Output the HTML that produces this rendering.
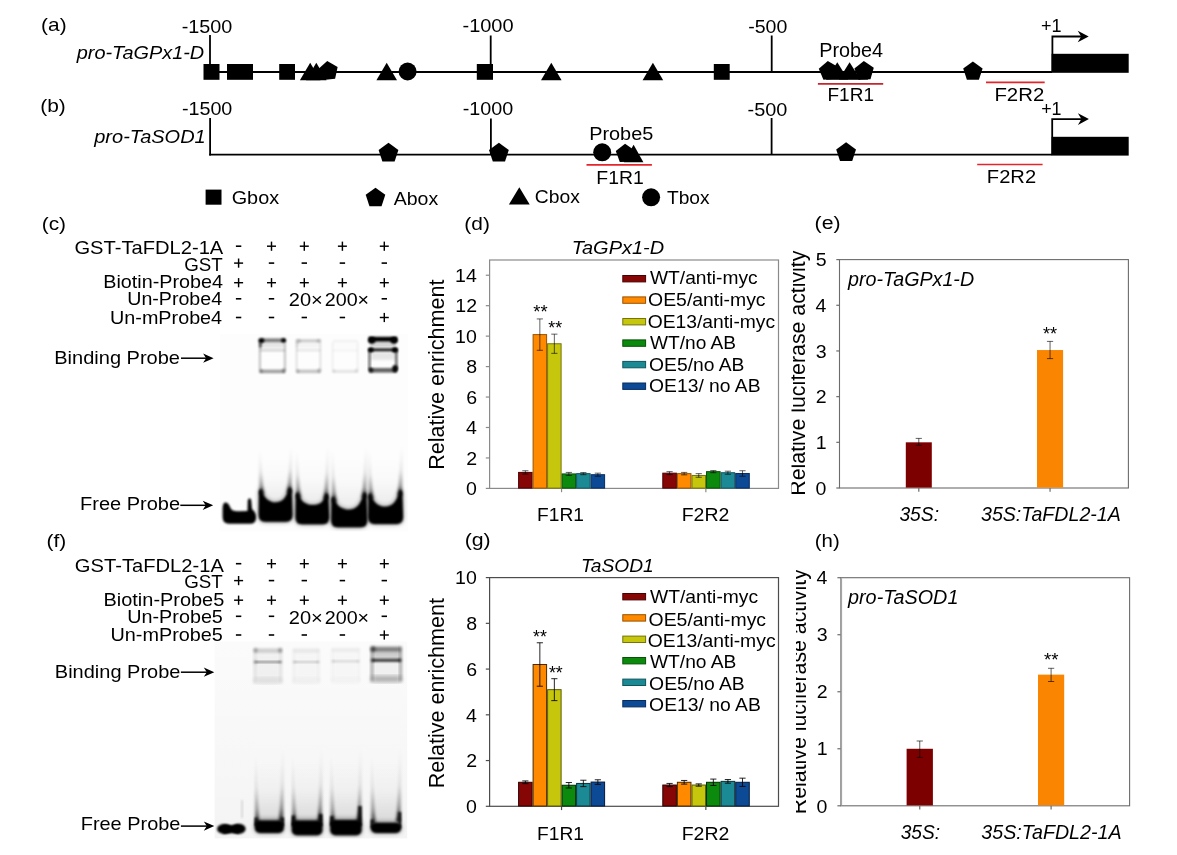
<!DOCTYPE html>
<html><head><meta charset="utf-8"><title>Figure</title>
<style>
html,body{margin:0;padding:0;background:#fff;}
body{width:1177px;height:855px;overflow:hidden;}
svg{display:block;will-change:transform;font-family:"Liberation Sans",sans-serif;}
</style></head><body>
<svg width="1177" height="855" viewBox="0 0 1177 855">
<rect width="1177" height="855" fill="#fff"/>
<text transform="translate(41.12,31.20) scale(1.1381,1)" font-size="18.3">(a)</text>
<text transform="translate(181.68,32.50) scale(1.0835,1)" font-size="18.3">-1500</text>
<text transform="translate(462.48,32.40) scale(1.0923,1)" font-size="18.3">-1000</text>
<text transform="translate(748.19,32.80) scale(1.0674,1)" font-size="18.3">-500</text>
<text transform="translate(76.72,59.00) scale(1.0875,1)" font-size="18.3" font-style="italic">pro-TaGPx1-D</text>
<line x1="210.00" y1="72.00" x2="1052.00" y2="72.00" stroke="#000" stroke-width="1.8"/>
<line x1="210.00" y1="35.00" x2="210.00" y2="72.00" stroke="#000" stroke-width="1.8"/>
<line x1="490.70" y1="35.50" x2="490.70" y2="72.00" stroke="#000" stroke-width="1.8"/>
<line x1="771.70" y1="35.50" x2="771.70" y2="72.00" stroke="#000" stroke-width="1.8"/>
<rect x="203.50" y="64.00" width="16.00" height="15.80" fill="#000"/>
<rect x="227.00" y="64.00" width="26.00" height="15.80" fill="#000"/>
<rect x="279.20" y="64.00" width="15.80" height="15.80" fill="#000"/>
<rect x="476.80" y="64.00" width="16.20" height="15.80" fill="#000"/>
<rect x="713.80" y="64.00" width="15.90" height="15.80" fill="#000"/>
<polygon points="310.20,62.70 320.50,80.30 299.90,80.30" fill="#000"/>
<polygon points="316.30,62.70 326.60,80.30 306.00,80.30" fill="#000"/>
<polygon points="327.23,61.06 337.62,67.05 335.13,78.78 323.20,80.03 318.32,69.08" fill="#000"/>
<polygon points="386.70,62.70 397.00,80.30 376.40,80.30" fill="#000"/>
<circle cx="407.60" cy="71.50" r="9" fill="#000"/>
<polygon points="551.30,62.70 561.60,80.30 541.00,80.30" fill="#000"/>
<polygon points="652.90,62.70 663.20,80.30 642.60,80.30" fill="#000"/>
<polygon points="827.81,60.94 838.09,67.11 835.39,78.80 823.45,79.84 818.76,68.81" fill="#000"/>
<polygon points="837.30,62.20 848.10,79.60 826.50,79.60" fill="#000"/>
<polygon points="849.60,62.20 860.40,79.60 838.80,79.60" fill="#000"/>
<polygon points="863.84,61.11 873.78,67.81 870.48,79.34 858.50,79.76 854.40,68.49" fill="#000"/>
<rect x="826.00" y="74.00" width="42.00" height="5.60" fill="#000"/>
<polygon points="972.90,61.40 982.60,68.45 978.90,79.85 966.90,79.85 963.20,68.45" fill="#000"/>
<text transform="translate(819.25,57.40) scale(1.0274,1)" font-size="19.3">Probe4</text>
<line x1="817.90" y1="83.90" x2="883.20" y2="83.90" stroke="#c7242d" stroke-width="1.7"/>
<text transform="translate(827.52,100.70) scale(1.0381,1)" font-size="18.3">F1R1</text>
<line x1="986.00" y1="82.40" x2="1044.70" y2="82.40" stroke="#e6242b" stroke-width="1.6"/>
<text transform="translate(994.41,100.70) scale(1.1156,1)" font-size="18.3">F2R2</text>
<text transform="translate(1040.95,32.00) scale(0.9862,1)" font-size="18.3">+1</text>
<polyline points="1052.40,72.00 1052.40,36.50 1082.70,36.50" fill="none" stroke="#000" stroke-width="1.8" stroke-linejoin="miter"/>
<polygon points="1088.70,36.50 1077.70,30.70 1081.20,36.50 1077.70,42.30" fill="#000"/>
<rect x="1051.60" y="53.80" width="77.10" height="19.00" fill="#000"/>
<text transform="translate(40.22,112.40) scale(1.1430,1)" font-size="18.3">(b)</text>
<text transform="translate(181.88,114.90) scale(1.0791,1)" font-size="18.3">-1500</text>
<text transform="translate(462.78,115.40) scale(1.0813,1)" font-size="18.3">-1000</text>
<text transform="translate(747.58,115.80) scale(1.0871,1)" font-size="18.3">-500</text>
<text transform="translate(94.23,142.60) scale(1.0937,1)" font-size="18.3" font-style="italic">pro-TaSOD1</text>
<line x1="209.20" y1="154.70" x2="1052.00" y2="154.70" stroke="#000" stroke-width="1.8"/>
<line x1="210.10" y1="118.00" x2="210.10" y2="155.60" stroke="#000" stroke-width="1.8"/>
<line x1="490.90" y1="118.50" x2="490.90" y2="154.70" stroke="#000" stroke-width="1.8"/>
<line x1="771.60" y1="118.00" x2="771.60" y2="154.70" stroke="#000" stroke-width="1.8"/>
<polygon points="388.50,142.80 398.39,149.99 394.61,161.61 382.39,161.61 378.61,149.99" fill="#000"/>
<polygon points="498.90,142.80 508.79,149.99 505.01,161.61 492.79,161.61 489.01,149.99" fill="#000"/>
<polygon points="846.10,142.30 855.99,149.49 852.21,161.11 839.99,161.11 836.21,149.49" fill="#000"/>
<circle cx="602.20" cy="152.30" r="9" fill="#000"/>
<polygon points="625.05,143.81 634.80,150.38 631.56,161.68 619.81,162.09 615.79,151.04" fill="#000"/>
<polygon points="633.60,144.80 643.40,162.20 623.80,162.20" fill="#000"/>
<text transform="translate(589.15,139.60) scale(1.0472,1)" font-size="19.0">Probe5</text>
<line x1="586.50" y1="164.90" x2="651.90" y2="164.90" stroke="#e6242b" stroke-width="1.8"/>
<text transform="translate(596.28,184.00) scale(1.0616,1)" font-size="18.3">F1R1</text>
<line x1="977.20" y1="164.50" x2="1042.60" y2="164.50" stroke="#e6242b" stroke-width="1.6"/>
<text transform="translate(986.83,183.10) scale(1.1015,1)" font-size="18.3">F2R2</text>
<text transform="translate(1041.16,115.40) scale(0.9759,1)" font-size="18.3">+1</text>
<polyline points="1052.20,155.00 1052.20,119.10 1082.90,119.10" fill="none" stroke="#000" stroke-width="1.8" stroke-linejoin="miter"/>
<polygon points="1088.90,119.10 1077.90,113.30 1081.40,119.10 1077.90,124.90" fill="#000"/>
<rect x="1051.60" y="136.80" width="77.10" height="18.80" fill="#000"/>
<rect x="205.60" y="189.60" width="15.90" height="15.10" fill="#000"/>
<text transform="translate(231.67,203.60) scale(1.0844,1)" font-size="18.3">Gbox</text>
<polygon points="375.50,187.70 385.30,194.82 381.55,206.33 369.45,206.33 365.70,194.82" fill="#000"/>
<text transform="translate(393.70,205.10) scale(1.0669,1)" font-size="18.3">Abox</text>
<polygon points="519.30,187.20 529.70,204.60 508.90,204.60" fill="#000"/>
<text transform="translate(534.79,203.10) scale(1.0558,1)" font-size="18.3">Cbox</text>
<circle cx="651.10" cy="197.30" r="9" fill="#000"/>
<text transform="translate(666.90,203.50) scale(1.0496,1)" font-size="18.3">Tbox</text>
<text transform="translate(41.72,229.60) scale(1.1417,1)" font-size="18.3">(c)</text>
<text transform="translate(74.46,253.90) scale(1.1012,1)" font-size="18.3">GST-TaFDL2-1A</text>
<text transform="translate(184.22,270.70) scale(1.0261,1)" font-size="18.3">GST</text>
<text transform="translate(103.26,287.90) scale(1.0799,1)" font-size="18.3">Biotin-Probe4</text>
<text transform="translate(127.27,305.00) scale(1.0714,1)" font-size="18.3">Un-Probe4</text>
<text transform="translate(110.06,323.60) scale(1.0799,1)" font-size="18.3">Un-mProbe4</text>
<line x1="235.90" y1="246.20" x2="241.30" y2="246.20" stroke="#000" stroke-width="1.6"/>
<line x1="267.00" y1="246.20" x2="276.00" y2="246.20" stroke="#000" stroke-width="1.45"/>
<line x1="271.50" y1="241.60" x2="271.50" y2="250.80" stroke="#000" stroke-width="1.45"/>
<line x1="299.80" y1="246.20" x2="308.80" y2="246.20" stroke="#000" stroke-width="1.45"/>
<line x1="304.30" y1="241.60" x2="304.30" y2="250.80" stroke="#000" stroke-width="1.45"/>
<line x1="337.90" y1="246.20" x2="346.90" y2="246.20" stroke="#000" stroke-width="1.45"/>
<line x1="342.40" y1="241.60" x2="342.40" y2="250.80" stroke="#000" stroke-width="1.45"/>
<line x1="379.80" y1="246.20" x2="388.80" y2="246.20" stroke="#000" stroke-width="1.45"/>
<line x1="384.30" y1="241.60" x2="384.30" y2="250.80" stroke="#000" stroke-width="1.45"/>
<line x1="234.10" y1="263.10" x2="243.10" y2="263.10" stroke="#000" stroke-width="1.45"/>
<line x1="238.60" y1="258.50" x2="238.60" y2="267.70" stroke="#000" stroke-width="1.45"/>
<line x1="268.80" y1="263.10" x2="274.20" y2="263.10" stroke="#000" stroke-width="1.6"/>
<line x1="301.60" y1="263.10" x2="307.00" y2="263.10" stroke="#000" stroke-width="1.6"/>
<line x1="339.70" y1="263.10" x2="345.10" y2="263.10" stroke="#000" stroke-width="1.6"/>
<line x1="381.60" y1="263.10" x2="387.00" y2="263.10" stroke="#000" stroke-width="1.6"/>
<line x1="234.10" y1="282.70" x2="243.10" y2="282.70" stroke="#000" stroke-width="1.45"/>
<line x1="238.60" y1="278.10" x2="238.60" y2="287.30" stroke="#000" stroke-width="1.45"/>
<line x1="267.00" y1="282.70" x2="276.00" y2="282.70" stroke="#000" stroke-width="1.45"/>
<line x1="271.50" y1="278.10" x2="271.50" y2="287.30" stroke="#000" stroke-width="1.45"/>
<line x1="299.80" y1="282.70" x2="308.80" y2="282.70" stroke="#000" stroke-width="1.45"/>
<line x1="304.30" y1="278.10" x2="304.30" y2="287.30" stroke="#000" stroke-width="1.45"/>
<line x1="337.90" y1="282.70" x2="346.90" y2="282.70" stroke="#000" stroke-width="1.45"/>
<line x1="342.40" y1="278.10" x2="342.40" y2="287.30" stroke="#000" stroke-width="1.45"/>
<line x1="379.80" y1="282.70" x2="388.80" y2="282.70" stroke="#000" stroke-width="1.45"/>
<line x1="384.30" y1="278.10" x2="384.30" y2="287.30" stroke="#000" stroke-width="1.45"/>
<line x1="235.90" y1="298.80" x2="241.30" y2="298.80" stroke="#000" stroke-width="1.6"/>
<line x1="268.80" y1="298.80" x2="274.20" y2="298.80" stroke="#000" stroke-width="1.6"/>
<line x1="381.60" y1="298.80" x2="387.00" y2="298.80" stroke="#000" stroke-width="1.6"/>
<line x1="235.90" y1="317.50" x2="241.30" y2="317.50" stroke="#000" stroke-width="1.6"/>
<line x1="268.80" y1="317.50" x2="274.20" y2="317.50" stroke="#000" stroke-width="1.6"/>
<line x1="301.60" y1="317.50" x2="307.00" y2="317.50" stroke="#000" stroke-width="1.6"/>
<line x1="339.70" y1="317.50" x2="345.10" y2="317.50" stroke="#000" stroke-width="1.6"/>
<line x1="379.80" y1="317.50" x2="388.80" y2="317.50" stroke="#000" stroke-width="1.45"/>
<line x1="384.30" y1="312.90" x2="384.30" y2="322.10" stroke="#000" stroke-width="1.45"/>
<text transform="translate(288.76,306.00) scale(1.0956,1)" font-size="18.3">20×</text>
<text transform="translate(324.78,306.00) scale(1.0764,1)" font-size="18.3">200×</text>
<text transform="translate(54.23,363.90) scale(1.0949,1)" font-size="18.3">Binding Probe</text>
<line x1="181.00" y1="358.20" x2="208.60" y2="358.20" stroke="#000" stroke-width="1.5"/>
<polygon points="213.60,358.20 203.10,353.60 206.10,358.20 203.10,362.80" fill="#000"/>
<text transform="translate(80.04,509.70) scale(1.0932,1)" font-size="18.3">Free Probe</text>
<line x1="180.30" y1="505.30" x2="208.20" y2="505.30" stroke="#000" stroke-width="1.5"/>
<polygon points="213.20,505.30 202.70,500.70 205.70,505.30 202.70,509.90" fill="#000"/>
<text transform="translate(46.42,546.80) scale(1.1443,1)" font-size="18.3">(f)</text>
<text transform="translate(74.85,571.50) scale(1.1019,1)" font-size="18.3">GST-TaFDL2-1A</text>
<text transform="translate(184.22,588.30) scale(1.0261,1)" font-size="18.3">GST</text>
<text transform="translate(103.54,605.70) scale(1.0891,1)" font-size="18.3">Biotin-Probe5</text>
<text transform="translate(127.26,622.90) scale(1.0807,1)" font-size="18.3">Un-Probe5</text>
<text transform="translate(110.46,641.20) scale(1.0839,1)" font-size="18.3">Un-mProbe5</text>
<line x1="235.90" y1="563.70" x2="241.30" y2="563.70" stroke="#000" stroke-width="1.6"/>
<line x1="267.00" y1="563.70" x2="276.00" y2="563.70" stroke="#000" stroke-width="1.45"/>
<line x1="271.50" y1="559.10" x2="271.50" y2="568.30" stroke="#000" stroke-width="1.45"/>
<line x1="299.80" y1="563.70" x2="308.80" y2="563.70" stroke="#000" stroke-width="1.45"/>
<line x1="304.30" y1="559.10" x2="304.30" y2="568.30" stroke="#000" stroke-width="1.45"/>
<line x1="337.90" y1="563.70" x2="346.90" y2="563.70" stroke="#000" stroke-width="1.45"/>
<line x1="342.40" y1="559.10" x2="342.40" y2="568.30" stroke="#000" stroke-width="1.45"/>
<line x1="379.80" y1="563.70" x2="388.80" y2="563.70" stroke="#000" stroke-width="1.45"/>
<line x1="384.30" y1="559.10" x2="384.30" y2="568.30" stroke="#000" stroke-width="1.45"/>
<line x1="234.10" y1="580.60" x2="243.10" y2="580.60" stroke="#000" stroke-width="1.45"/>
<line x1="238.60" y1="576.00" x2="238.60" y2="585.20" stroke="#000" stroke-width="1.45"/>
<line x1="268.80" y1="580.60" x2="274.20" y2="580.60" stroke="#000" stroke-width="1.6"/>
<line x1="301.60" y1="580.60" x2="307.00" y2="580.60" stroke="#000" stroke-width="1.6"/>
<line x1="339.70" y1="580.60" x2="345.10" y2="580.60" stroke="#000" stroke-width="1.6"/>
<line x1="381.60" y1="580.60" x2="387.00" y2="580.60" stroke="#000" stroke-width="1.6"/>
<line x1="234.10" y1="600.20" x2="243.10" y2="600.20" stroke="#000" stroke-width="1.45"/>
<line x1="238.60" y1="595.60" x2="238.60" y2="604.80" stroke="#000" stroke-width="1.45"/>
<line x1="267.00" y1="600.20" x2="276.00" y2="600.20" stroke="#000" stroke-width="1.45"/>
<line x1="271.50" y1="595.60" x2="271.50" y2="604.80" stroke="#000" stroke-width="1.45"/>
<line x1="299.80" y1="600.20" x2="308.80" y2="600.20" stroke="#000" stroke-width="1.45"/>
<line x1="304.30" y1="595.60" x2="304.30" y2="604.80" stroke="#000" stroke-width="1.45"/>
<line x1="337.90" y1="600.20" x2="346.90" y2="600.20" stroke="#000" stroke-width="1.45"/>
<line x1="342.40" y1="595.60" x2="342.40" y2="604.80" stroke="#000" stroke-width="1.45"/>
<line x1="379.80" y1="600.20" x2="388.80" y2="600.20" stroke="#000" stroke-width="1.45"/>
<line x1="384.30" y1="595.60" x2="384.30" y2="604.80" stroke="#000" stroke-width="1.45"/>
<line x1="235.90" y1="616.30" x2="241.30" y2="616.30" stroke="#000" stroke-width="1.6"/>
<line x1="268.80" y1="616.30" x2="274.20" y2="616.30" stroke="#000" stroke-width="1.6"/>
<line x1="381.60" y1="616.30" x2="387.00" y2="616.30" stroke="#000" stroke-width="1.6"/>
<line x1="235.90" y1="635.00" x2="241.30" y2="635.00" stroke="#000" stroke-width="1.6"/>
<line x1="268.80" y1="635.00" x2="274.20" y2="635.00" stroke="#000" stroke-width="1.6"/>
<line x1="301.60" y1="635.00" x2="307.00" y2="635.00" stroke="#000" stroke-width="1.6"/>
<line x1="339.70" y1="635.00" x2="345.10" y2="635.00" stroke="#000" stroke-width="1.6"/>
<line x1="379.80" y1="635.00" x2="388.80" y2="635.00" stroke="#000" stroke-width="1.45"/>
<line x1="384.30" y1="630.40" x2="384.30" y2="639.60" stroke="#000" stroke-width="1.45"/>
<text transform="translate(288.76,623.50) scale(1.0956,1)" font-size="18.3">20×</text>
<text transform="translate(324.78,623.50) scale(1.0764,1)" font-size="18.3">200×</text>
<text transform="translate(54.84,678.20) scale(1.0923,1)" font-size="18.3">Binding Probe</text>
<line x1="180.90" y1="672.20" x2="209.30" y2="672.20" stroke="#000" stroke-width="1.5"/>
<polygon points="214.30,672.20 203.80,667.60 206.80,672.20 203.80,676.80" fill="#000"/>
<text transform="translate(80.74,830.30) scale(1.0887,1)" font-size="18.3">Free Probe</text>
<line x1="180.90" y1="826.10" x2="209.30" y2="826.10" stroke="#000" stroke-width="1.5"/>
<polygon points="214.30,826.10 203.80,821.50 206.80,826.10 203.80,830.70" fill="#000"/>
<defs>
<filter id="b0" x="-50%" y="-50%" width="200%" height="200%"><feGaussianBlur stdDeviation="0.5"/></filter>
<filter id="b1" x="-50%" y="-50%" width="200%" height="200%"><feGaussianBlur stdDeviation="0.8"/></filter>
<filter id="b2" x="-50%" y="-50%" width="200%" height="200%"><feGaussianBlur stdDeviation="1.2"/></filter>
<filter id="b3" x="-50%" y="-50%" width="200%" height="200%"><feGaussianBlur stdDeviation="1.8"/></filter>
<filter id="b4" x="-50%" y="-50%" width="200%" height="200%"><feGaussianBlur stdDeviation="2.5"/></filter>
<filter id="b5" x="-50%" y="-50%" width="200%" height="200%"><feGaussianBlur stdDeviation="4"/></filter>
<filter id="b6" x="-50%" y="-50%" width="200%" height="200%"><feGaussianBlur stdDeviation="6"/></filter>
<linearGradient id="smear" x1="0" y1="0" x2="0" y2="1"><stop offset="0" stop-color="#000" stop-opacity="0"/><stop offset="0.5" stop-color="#000" stop-opacity="0.12"/><stop offset="0.8" stop-color="#000" stop-opacity="0.4"/><stop offset="1" stop-color="#000" stop-opacity="0.85"/></linearGradient>
<linearGradient id="smearc" x1="0" y1="0" x2="0" y2="1"><stop offset="0" stop-color="#000" stop-opacity="0"/><stop offset="0.5" stop-color="#000" stop-opacity="0.05"/><stop offset="1" stop-color="#000" stop-opacity="0.22"/></linearGradient>
<clipPath id="gc"><rect x="220" y="334" width="188" height="197.5"/></clipPath>
<clipPath id="gf"><rect x="214.6" y="641.4" width="192.6" height="197"/></clipPath>
</defs>
<rect x="220.00" y="334.00" width="188.00" height="197.50" fill="#fdfdfd"/>
<g clip-path="url(#gc)">
<rect x="262.0" y="455.0" width="27.0" height="47.6" fill="url(#smearc)" opacity="0.35" filter="url(#b4)"/>
<path d="M259.3,450.0 L260.5,450.0 Q261.5,474.6 264.3,494.6 L259.3,494.6 Z" fill="url(#smear)" opacity="1.0" filter="url(#b3)"/>
<path d="M291.7,446.0 L290.5,446.0 Q289.5,472.9 286.7,492.9 L291.7,492.9 Z" fill="url(#smear)" opacity="1.0" filter="url(#b3)"/>
<rect x="298.8" y="455.0" width="26.9" height="51.0" fill="url(#smearc)" opacity="0.35" filter="url(#b4)"/>
<path d="M296.1,450.0 L297.3,450.0 Q298.3,478.0 301.1,498.0 L296.1,498.0 Z" fill="url(#smear)" opacity="1.0" filter="url(#b3)"/>
<path d="M328.4,446.0 L327.2,446.0 Q326.2,478.9 323.4,498.9 L328.4,498.9 Z" fill="url(#smear)" opacity="1.0" filter="url(#b3)"/>
<rect x="334.5" y="455.0" width="29.3" height="55.3" fill="url(#smearc)" opacity="0.35" filter="url(#b4)"/>
<path d="M331.8,450.0 L333.0,450.0 Q334.0,482.3 336.8,502.3 L331.8,502.3 Z" fill="url(#smear)" opacity="1.0" filter="url(#b3)"/>
<path d="M366.5,446.0 L365.3,446.0 Q364.3,478.0 361.5,498.0 L366.5,498.0 Z" fill="url(#smear)" opacity="1.0" filter="url(#b3)"/>
<rect x="371.4" y="455.0" width="28.2" height="51.9" fill="url(#smearc)" opacity="0.35" filter="url(#b4)"/>
<path d="M368.7,450.0 L369.9,450.0 Q370.9,478.9 373.7,498.9 L368.7,498.9 Z" fill="url(#smear)" opacity="1.0" filter="url(#b3)"/>
<path d="M402.3,446.0 L401.1,446.0 Q400.1,475.5 397.3,495.5 L402.3,495.5 Z" fill="url(#smear)" opacity="1.0" filter="url(#b3)"/>
<path d="M222.6,508 Q223,502.2 226,502.6 Q228.5,503 230.5,508 Q232,511.3 238,511.2 L247.5,511 L247.8,500 Q249.8,496.5 251.2,500 L252,509 Q256,512 256.1,517 Q256.3,523.8 250,523.8 L229,523.8 Q222.6,523.8 222.6,517 Z" fill="#000" filter="url(#b1)"/>
<path d="M259.0,491.6 Q259.8,488.1 261.6,489.1 C263.5,497.6 267.0,501.0 273.5,502.5 C284.0,502.8 286.5,496.9 289.0,487.4 Q291.0,486.4 291.7,490.9 L292.5,514.8 Q292.5,521.8 286.0,521.8 L265.0,521.8 Q258.7,521.8 258.7,514.8 Z" fill="#000" opacity="0.55" filter="url(#b4)"/>
<path d="M259.0,491.6 Q259.8,488.1 261.6,489.1 C263.5,497.6 267.0,501.0 273.5,502.5 C284.0,502.8 286.5,496.9 289.0,487.4 Q291.0,486.4 291.7,490.9 L292.5,514.8 Q292.5,521.8 286.0,521.8 L265.0,521.8 Q258.7,521.8 258.7,514.8 Z" fill="#000" filter="url(#b1)"/>
<path d="M295.8,495.0 Q296.6,491.5 298.4,492.5 C300.3,501.0 303.8,503.5 310.2,505.0 C320.7,505.3 323.2,502.9 325.7,493.4 Q327.7,492.4 328.4,496.9 L329.2,517.3 Q329.2,524.3 322.7,524.3 L301.8,524.3 Q295.5,524.3 295.5,517.3 Z" fill="#000" opacity="0.55" filter="url(#b4)"/>
<path d="M295.8,495.0 Q296.6,491.5 298.4,492.5 C300.3,501.0 303.8,503.5 310.2,505.0 C320.7,505.3 323.2,502.9 325.7,493.4 Q327.7,492.4 328.4,496.9 L329.2,517.3 Q329.2,524.3 322.7,524.3 L301.8,524.3 Q295.5,524.3 295.5,517.3 Z" fill="#000" filter="url(#b1)"/>
<path d="M331.5,499.3 Q332.3,495.8 334.1,496.8 C336.0,505.3 339.5,508.3 347.1,509.8 C358.8,510.1 361.3,502.0 363.8,492.5 Q365.8,491.5 366.5,496.0 L367.3,520.2 Q367.3,527.2 360.8,527.2 L337.5,527.2 Q331.2,527.2 331.2,520.2 Z" fill="#000" opacity="0.55" filter="url(#b4)"/>
<path d="M331.5,499.3 Q332.3,495.8 334.1,496.8 C336.0,505.3 339.5,508.3 347.1,509.8 C358.8,510.1 361.3,502.0 363.8,492.5 Q365.8,491.5 366.5,496.0 L367.3,520.2 Q367.3,527.2 360.8,527.2 L337.5,527.2 Q331.2,527.2 331.2,520.2 Z" fill="#000" filter="url(#b1)"/>
<path d="M368.4,495.9 Q369.2,492.4 371.0,493.4 C372.9,501.9 376.4,505.3 383.5,506.8 C394.6,507.1 397.1,499.5 399.6,490.0 Q401.6,489.0 402.3,493.5 L403.1,517.0 Q403.1,524.0 396.6,524.0 L374.4,524.0 Q368.1,524.0 368.1,517.0 Z" fill="#000" opacity="0.55" filter="url(#b4)"/>
<path d="M368.4,495.9 Q369.2,492.4 371.0,493.4 C372.9,501.9 376.4,505.3 383.5,506.8 C394.6,507.1 397.1,499.5 399.6,490.0 Q401.6,489.0 402.3,493.5 L403.1,517.0 Q403.1,524.0 396.6,524.0 L374.4,524.0 Q368.1,524.0 368.1,517.0 Z" fill="#000" filter="url(#b1)"/>
<rect x="259.8" y="338.4" width="25.2" height="3.8" fill="#000" opacity="0.5" filter="url(#b2)"/>
<rect x="260.8" y="342.2" width="23.2" height="6.0" fill="#000" opacity="0.09" filter="url(#b3)"/>
<ellipse cx="261.4" cy="340.6" rx="3.0" ry="2.3" fill="#000" opacity="1.0" filter="url(#b2)"/>
<ellipse cx="283.6" cy="340.4" rx="2.6" ry="2.1" fill="#000" opacity="1.0" filter="url(#b2)"/>
<ellipse cx="260.4" cy="344.7" rx="1.5" ry="3.2" fill="#000" opacity="0.55" filter="url(#b2)"/>
<rect x="258.8" y="342.2" width="2.2" height="27.4" fill="#000" opacity="0.22" filter="url(#b2)"/>
<rect x="283.8" y="342.2" width="2.2" height="27.4" fill="#000" opacity="0.22" filter="url(#b2)"/>
<rect x="259.8" y="369.6" width="25.2" height="3.6" fill="#000" opacity="0.36" filter="url(#b2)"/>
<ellipse cx="260.8" cy="370.9" rx="2.2" ry="2.0" fill="#000" opacity="0.252" filter="url(#b2)"/>
<ellipse cx="284.0" cy="370.6" rx="2.2" ry="2.4" fill="#000" opacity="0.288" filter="url(#b2)"/>
<rect x="259.8" y="349.4" width="25.2" height="2.0" fill="#000" opacity="0.18" filter="url(#b2)"/>
<rect x="296.5" y="339.3" width="23.9" height="2.9" fill="#000" opacity="0.2" filter="url(#b2)"/>
<rect x="297.5" y="342.2" width="21.9" height="6.0" fill="#000" opacity="0.036" filter="url(#b3)"/>
<ellipse cx="298.1" cy="341.1" rx="3.0" ry="2.3" fill="#000" opacity="0.12" filter="url(#b2)"/>
<ellipse cx="319.0" cy="340.9" rx="2.6" ry="2.1" fill="#000" opacity="0.12" filter="url(#b2)"/>
<ellipse cx="297.1" cy="344.7" rx="1.5" ry="3.2" fill="#000" opacity="0.066" filter="url(#b2)"/>
<rect x="295.5" y="342.2" width="2.2" height="27.4" fill="#000" opacity="0.1" filter="url(#b2)"/>
<rect x="319.2" y="342.2" width="2.2" height="27.4" fill="#000" opacity="0.1" filter="url(#b2)"/>
<rect x="296.5" y="369.6" width="23.9" height="3.6" fill="#000" opacity="0.22" filter="url(#b2)"/>
<ellipse cx="297.5" cy="370.9" rx="2.2" ry="2.0" fill="#000" opacity="0.154" filter="url(#b2)"/>
<ellipse cx="319.4" cy="370.6" rx="2.2" ry="2.4" fill="#000" opacity="0.17600000000000002" filter="url(#b2)"/>
<rect x="296.5" y="349.4" width="23.9" height="2.0" fill="#000" opacity="0.1" filter="url(#b2)"/>
<rect x="332.6" y="340.0" width="25.2" height="2.2" fill="#000" opacity="0.05" filter="url(#b2)"/>
<rect x="333.6" y="342.2" width="23.2" height="6.0" fill="#000" opacity="0.009" filter="url(#b3)"/>
<rect x="331.6" y="342.2" width="2.2" height="27.6" fill="#000" opacity="0.05" filter="url(#b2)"/>
<rect x="356.6" y="342.2" width="2.2" height="27.6" fill="#000" opacity="0.05" filter="url(#b2)"/>
<rect x="332.6" y="369.8" width="25.2" height="3.2" fill="#000" opacity="0.09" filter="url(#b2)"/>
<ellipse cx="333.6" cy="370.9" rx="2.2" ry="2.0" fill="#000" opacity="0.063" filter="url(#b2)"/>
<ellipse cx="356.8" cy="370.6" rx="2.2" ry="2.4" fill="#000" opacity="0.072" filter="url(#b2)"/>
<rect x="332.6" y="349.4" width="25.2" height="2.0" fill="#000" opacity="0.04" filter="url(#b2)"/>
<rect x="368.7" y="336.8" width="28.4" height="4.8" fill="#000" opacity="1" filter="url(#b2)"/>
<ellipse cx="371.8" cy="340.3" rx="3.6" ry="3.4" fill="#000" opacity="1" filter="url(#b2)"/>
<ellipse cx="394.0" cy="340.3" rx="3.6" ry="3.4" fill="#000" opacity="1" filter="url(#b2)"/>
<rect x="370.0" y="341.5" width="26.0" height="6.5" fill="#000" opacity="0.15" filter="url(#b2)"/>
<rect x="368.7" y="348.5" width="28.4" height="2.7" fill="#000" opacity="0.95" filter="url(#b2)"/>
<ellipse cx="395.0" cy="349.9" rx="3.0" ry="2.6" fill="#000" opacity="1" filter="url(#b2)"/>
<ellipse cx="370.8" cy="349.9" rx="2.8" ry="2.4" fill="#000" opacity="1" filter="url(#b2)"/>
<rect x="370.5" y="351.5" width="25.0" height="8.5" fill="#000" opacity="0.09" filter="url(#b3)"/>
<rect x="368.3" y="351.0" width="2.4" height="19.0" fill="#000" opacity="0.55" filter="url(#b2)"/>
<rect x="395.1" y="351.0" width="2.4" height="19.0" fill="#000" opacity="0.6" filter="url(#b2)"/>
<rect x="369.0" y="368.0" width="28.0" height="4.6" fill="#000" opacity="0.6" filter="url(#b2)"/>
<ellipse cx="395.0" cy="368.6" rx="2.8" ry="3.6" fill="#000" opacity="0.95" filter="url(#b2)"/>
<ellipse cx="371.0" cy="370.2" rx="2.4" ry="2.4" fill="#000" opacity="0.75" filter="url(#b2)"/>
</g>
<defs><linearGradient id="gfbg" x1="0" y1="0" x2="0" y2="1"><stop offset="0" stop-color="#fbfbfb"/><stop offset="0.45" stop-color="#f8f8f8"/><stop offset="1" stop-color="#f4f4f4"/></linearGradient></defs>
<rect x="214.60" y="641.40" width="192.60" height="197.00" fill="url(#gfbg)"/>
<g clip-path="url(#gf)">
<rect x="256.5" y="760.0" width="25.4" height="62.0" fill="url(#smearc)" opacity="0.5" filter="url(#b4)"/>
<path d="M255.0,752.0 L256.2,752.0 Q257.2,804.0 260.0,824.0 L255.0,824.0 Z" fill="url(#smear)" opacity="0.9" filter="url(#b3)"/>
<path d="M283.4,748.0 L282.2,748.0 Q281.2,802.0 278.4,822.0 L283.4,822.0 Z" fill="url(#smear)" opacity="1.0" filter="url(#b3)"/>
<rect x="293.6" y="760.0" width="26.9" height="62.0" fill="url(#smearc)" opacity="0.5" filter="url(#b4)"/>
<path d="M292.1,752.0 L293.3,752.0 Q294.3,804.0 297.1,824.0 L292.1,824.0 Z" fill="url(#smear)" opacity="0.9" filter="url(#b3)"/>
<path d="M322.0,748.0 L320.8,748.0 Q319.8,802.0 317.0,822.0 L322.0,822.0 Z" fill="url(#smear)" opacity="1.0" filter="url(#b3)"/>
<rect x="332.1" y="760.0" width="27.6" height="62.0" fill="url(#smearc)" opacity="0.5" filter="url(#b4)"/>
<path d="M330.6,752.0 L331.8,752.0 Q332.8,804.0 335.6,824.0 L330.6,824.0 Z" fill="url(#smear)" opacity="0.9" filter="url(#b3)"/>
<path d="M361.2,748.0 L360.0,748.0 Q359.0,802.0 356.2,822.0 L361.2,822.0 Z" fill="url(#smear)" opacity="1.0" filter="url(#b3)"/>
<rect x="372.6" y="760.0" width="26.6" height="62.0" fill="url(#smearc)" opacity="0.5" filter="url(#b4)"/>
<path d="M371.1,752.0 L372.3,752.0 Q373.3,804.0 376.1,824.0 L371.1,824.0 Z" fill="url(#smear)" opacity="0.9" filter="url(#b3)"/>
<path d="M400.7,748.0 L399.5,748.0 Q398.5,802.0 395.7,822.0 L400.7,822.0 Z" fill="url(#smear)" opacity="1.0" filter="url(#b3)"/>
<ellipse cx="224.5" cy="829" rx="7.5" ry="4.9" fill="#000" filter="url(#b1)"/><ellipse cx="238.5" cy="828.8" rx="7.2" ry="5.1" fill="#000" filter="url(#b1)"/><rect x="223" y="825.2" width="16" height="8" fill="#000" filter="url(#b1)"/>
<rect x="241.2" y="800.0" width="1.8" height="18.0" fill="#000" opacity="0.12" filter="url(#b2)"/>
<rect x="254.8" y="819.5" width="29.0" height="13.5" rx="5" fill="#000" opacity="0.5" filter="url(#b4)"/>
<rect x="254.8" y="820.5" width="29.0" height="12.5" rx="5" fill="#000" filter="url(#b1)"/>
<rect x="254.8" y="817.5" width="2.7" height="8.5" fill="#000" opacity="0.9" filter="url(#b1)"/>
<rect x="281.0" y="817.5" width="2.8" height="8.5" fill="#000" opacity="0.9" filter="url(#b1)"/>
<rect x="291.8" y="819.5" width="30.6" height="15.8" rx="5" fill="#000" opacity="0.5" filter="url(#b4)"/>
<rect x="291.8" y="820.5" width="30.6" height="14.8" rx="5" fill="#000" filter="url(#b1)"/>
<rect x="291.8" y="815.5" width="3.2" height="10.5" fill="#000" opacity="0.95" filter="url(#b1)"/>
<rect x="319.0" y="814.0" width="3.4" height="12.0" fill="#000" opacity="0.95" filter="url(#b1)"/>
<rect x="330.3" y="819.0" width="31.3" height="16.3" rx="5" fill="#000" opacity="0.5" filter="url(#b4)"/>
<rect x="330.3" y="820.0" width="31.3" height="15.3" rx="5" fill="#000" filter="url(#b1)"/>
<rect x="330.3" y="816.0" width="3.2" height="10.0" fill="#000" opacity="0.95" filter="url(#b1)"/>
<rect x="358.3" y="806.0" width="3.3" height="20.0" fill="#000" opacity="0.95" filter="url(#b1)"/>
<rect x="370.8" y="821.8" width="30.3" height="11.2" rx="5" fill="#000" opacity="0.5" filter="url(#b4)"/>
<rect x="370.8" y="822.8" width="30.3" height="10.2" rx="5" fill="#000" filter="url(#b1)"/>
<rect x="370.8" y="819.5" width="2.7" height="8.5" fill="#000" opacity="0.9" filter="url(#b1)"/>
<rect x="398.3" y="812.0" width="2.8" height="16.0" fill="#000" opacity="0.9" filter="url(#b1)"/>
<rect x="254.5" y="648.7" width="26.7" height="3.8" fill="#000" opacity="0.2" filter="url(#b3)"/>
<rect x="254.5" y="661.0" width="26.7" height="2.0" fill="#000" opacity="0.4" filter="url(#b2)"/>
<rect x="254.5" y="678.8" width="26.7" height="4.0" fill="#000" opacity="0.17" filter="url(#b4)"/>
<rect x="253.5" y="648.7" width="2.5" height="34.1" fill="#000" opacity="0.1" filter="url(#b3)"/>
<rect x="279.7" y="648.7" width="2.5" height="34.1" fill="#000" opacity="0.1" filter="url(#b3)"/>
<rect x="255.5" y="652.5" width="24.7" height="26.3" fill="#000" opacity="0.035" filter="url(#b3)"/>
<ellipse cx="255.5" cy="662.0" rx="2.2" ry="1.8" fill="#000" opacity="0.2" filter="url(#b3)"/>
<ellipse cx="280.2" cy="662.0" rx="2.2" ry="1.8" fill="#000" opacity="0.16000000000000003" filter="url(#b3)"/>
<ellipse cx="255.5" cy="650.3" rx="1.8" ry="2.2" fill="#000" opacity="0.3" filter="url(#b3)"/>
<ellipse cx="280.3" cy="650.3" rx="1.8" ry="2.2" fill="#000" opacity="0.35" filter="url(#b3)"/>
<rect x="293.5" y="648.7" width="25.5" height="3.8" fill="#000" opacity="0.084" filter="url(#b3)"/>
<rect x="293.5" y="661.0" width="25.5" height="2.0" fill="#000" opacity="0.168" filter="url(#b2)"/>
<rect x="293.5" y="678.8" width="25.5" height="4.0" fill="#000" opacity="0.0714" filter="url(#b4)"/>
<rect x="292.5" y="648.7" width="2.5" height="34.1" fill="#000" opacity="0.042" filter="url(#b3)"/>
<rect x="317.5" y="648.7" width="2.5" height="34.1" fill="#000" opacity="0.042" filter="url(#b3)"/>
<rect x="294.5" y="652.5" width="23.5" height="26.3" fill="#000" opacity="0.014700000000000001" filter="url(#b3)"/>
<ellipse cx="294.5" cy="662.0" rx="2.2" ry="1.8" fill="#000" opacity="0.084" filter="url(#b3)"/>
<ellipse cx="318.0" cy="662.0" rx="2.2" ry="1.8" fill="#000" opacity="0.06720000000000001" filter="url(#b3)"/>
<rect x="332.0" y="648.0" width="27.2" height="4.0" fill="#000" opacity="0.06" filter="url(#b3)"/>
<rect x="332.0" y="660.2" width="27.2" height="2.2" fill="#000" opacity="0.12" filter="url(#b2)"/>
<rect x="332.0" y="678.2" width="27.2" height="4.0" fill="#000" opacity="0.051000000000000004" filter="url(#b4)"/>
<rect x="331.0" y="648.0" width="2.5" height="34.2" fill="#000" opacity="0.03" filter="url(#b3)"/>
<rect x="357.7" y="648.0" width="2.5" height="34.2" fill="#000" opacity="0.03" filter="url(#b3)"/>
<rect x="333.0" y="652.0" width="25.2" height="26.2" fill="#000" opacity="0.0105" filter="url(#b3)"/>
<ellipse cx="333.0" cy="661.3" rx="2.2" ry="1.8" fill="#000" opacity="0.06" filter="url(#b3)"/>
<ellipse cx="358.2" cy="661.3" rx="2.2" ry="1.8" fill="#000" opacity="0.048" filter="url(#b3)"/>
<rect x="371.7" y="646.8" width="29.2" height="5.0" fill="#000" opacity="0.5" filter="url(#b3)"/>
<rect x="371.7" y="658.7" width="29.2" height="3.2" fill="#000" opacity="0.72" filter="url(#b2)"/>
<rect x="371.7" y="676.8" width="29.2" height="4.6" fill="#000" opacity="0.42" filter="url(#b4)"/>
<rect x="370.7" y="646.8" width="2.5" height="34.6" fill="#000" opacity="0.36" filter="url(#b3)"/>
<rect x="399.4" y="646.8" width="2.5" height="34.6" fill="#000" opacity="0.36" filter="url(#b3)"/>
<rect x="372.7" y="651.8" width="27.2" height="25.0" fill="#000" opacity="0.035" filter="url(#b3)"/>
<rect x="372.7" y="651.8" width="27.2" height="6.9" fill="#000" opacity="0.14" filter="url(#b3)"/>
<ellipse cx="372.7" cy="660.3" rx="2.2" ry="1.8" fill="#000" opacity="0.36" filter="url(#b3)"/>
<ellipse cx="399.9" cy="660.3" rx="2.2" ry="1.8" fill="#000" opacity="0.288" filter="url(#b3)"/>
<ellipse cx="373.0" cy="649.0" rx="2.6" ry="2.6" fill="#000" opacity="0.5" filter="url(#b3)"/>
</g>
<rect x="489.6" y="260" width="288.9" height="228.39999999999998" fill="none" stroke="#8a8a8a" stroke-width="1.2"/>
<line x1="485.80" y1="488.40" x2="489.60" y2="488.40" stroke="#8a8a8a" stroke-width="1.2"/>
<text transform="translate(465.92,495.10) scale(1.0450,1)" font-size="18.7">0</text>
<line x1="485.80" y1="457.95" x2="489.60" y2="457.95" stroke="#8a8a8a" stroke-width="1.2"/>
<text transform="translate(466.22,464.65) scale(1.0450,1)" font-size="18.7">2</text>
<line x1="485.80" y1="427.49" x2="489.60" y2="427.49" stroke="#8a8a8a" stroke-width="1.2"/>
<text transform="translate(465.92,434.19) scale(1.0450,1)" font-size="18.7">4</text>
<line x1="485.80" y1="397.04" x2="489.60" y2="397.04" stroke="#8a8a8a" stroke-width="1.2"/>
<text transform="translate(466.22,403.74) scale(1.0450,1)" font-size="18.7">6</text>
<line x1="485.80" y1="366.59" x2="489.60" y2="366.59" stroke="#8a8a8a" stroke-width="1.2"/>
<text transform="translate(466.22,373.29) scale(1.0450,1)" font-size="18.7">8</text>
<line x1="485.80" y1="336.13" x2="489.60" y2="336.13" stroke="#8a8a8a" stroke-width="1.2"/>
<text transform="translate(455.05,342.83) scale(1.0450,1)" font-size="18.7">10</text>
<line x1="485.80" y1="305.68" x2="489.60" y2="305.68" stroke="#8a8a8a" stroke-width="1.2"/>
<text transform="translate(455.36,312.38) scale(1.0450,1)" font-size="18.7">12</text>
<line x1="485.80" y1="275.23" x2="489.60" y2="275.23" stroke="#8a8a8a" stroke-width="1.2"/>
<text transform="translate(455.05,281.93) scale(1.0450,1)" font-size="18.7">14</text>
<line x1="561.55" y1="488.40" x2="561.55" y2="492.20" stroke="#8a8a8a" stroke-width="1.2"/>
<line x1="705.85" y1="488.40" x2="705.85" y2="492.20" stroke="#8a8a8a" stroke-width="1.2"/>
<rect x="518.60" y="472.41" width="13.50" height="15.69" fill="#860606" stroke="#4a0000" stroke-width="1"/>
<line x1="525.35" y1="470.74" x2="525.35" y2="474.09" stroke="#000" stroke-width="1" stroke-opacity="0.62"/>
<line x1="522.25" y1="470.74" x2="528.45" y2="470.74" stroke="#000" stroke-width="1" stroke-opacity="0.62"/>
<line x1="522.25" y1="474.09" x2="528.45" y2="474.09" stroke="#000" stroke-width="1" stroke-opacity="0.62"/>
<rect x="533.10" y="334.61" width="13.50" height="153.49" fill="#ff8a00" stroke="#9a5200" stroke-width="1"/>
<line x1="539.85" y1="318.93" x2="539.85" y2="350.29" stroke="#000" stroke-width="1" stroke-opacity="0.62"/>
<line x1="536.75" y1="318.93" x2="542.95" y2="318.93" stroke="#000" stroke-width="1" stroke-opacity="0.62"/>
<line x1="536.75" y1="350.29" x2="542.95" y2="350.29" stroke="#000" stroke-width="1" stroke-opacity="0.62"/>
<rect x="547.60" y="343.75" width="13.50" height="144.35" fill="#c6c60c" stroke="#74740a" stroke-width="1"/>
<line x1="554.35" y1="334.15" x2="554.35" y2="353.34" stroke="#000" stroke-width="1" stroke-opacity="0.62"/>
<line x1="551.25" y1="334.15" x2="557.45" y2="334.15" stroke="#000" stroke-width="1" stroke-opacity="0.62"/>
<line x1="551.25" y1="353.34" x2="557.45" y2="353.34" stroke="#000" stroke-width="1" stroke-opacity="0.62"/>
<rect x="562.10" y="473.93" width="13.50" height="14.17" fill="#0c8a0e" stroke="#075207" stroke-width="1"/>
<line x1="568.85" y1="472.41" x2="568.85" y2="475.46" stroke="#000" stroke-width="1" stroke-opacity="0.62"/>
<line x1="565.75" y1="472.41" x2="571.95" y2="472.41" stroke="#000" stroke-width="1" stroke-opacity="0.62"/>
<line x1="565.75" y1="475.46" x2="571.95" y2="475.46" stroke="#000" stroke-width="1" stroke-opacity="0.62"/>
<rect x="576.60" y="473.63" width="13.50" height="14.47" fill="#1c8a94" stroke="#0f555c" stroke-width="1"/>
<line x1="583.35" y1="472.56" x2="583.35" y2="474.70" stroke="#000" stroke-width="1" stroke-opacity="0.62"/>
<line x1="580.25" y1="472.56" x2="586.45" y2="472.56" stroke="#000" stroke-width="1" stroke-opacity="0.62"/>
<line x1="580.25" y1="474.70" x2="586.45" y2="474.70" stroke="#000" stroke-width="1" stroke-opacity="0.62"/>
<rect x="591.10" y="474.70" width="13.50" height="13.40" fill="#0c4a96" stroke="#072c60" stroke-width="1"/>
<line x1="597.85" y1="473.17" x2="597.85" y2="476.22" stroke="#000" stroke-width="1" stroke-opacity="0.62"/>
<line x1="594.75" y1="473.17" x2="600.95" y2="473.17" stroke="#000" stroke-width="1" stroke-opacity="0.62"/>
<line x1="594.75" y1="476.22" x2="600.95" y2="476.22" stroke="#000" stroke-width="1" stroke-opacity="0.62"/>
<rect x="662.80" y="473.17" width="13.58" height="14.93" fill="#860606" stroke="#4a0000" stroke-width="1"/>
<line x1="669.59" y1="471.65" x2="669.59" y2="474.70" stroke="#000" stroke-width="1" stroke-opacity="0.62"/>
<line x1="666.49" y1="471.65" x2="672.69" y2="471.65" stroke="#000" stroke-width="1" stroke-opacity="0.62"/>
<line x1="666.49" y1="474.70" x2="672.69" y2="474.70" stroke="#000" stroke-width="1" stroke-opacity="0.62"/>
<rect x="677.38" y="473.63" width="13.58" height="14.47" fill="#ff8a00" stroke="#9a5200" stroke-width="1"/>
<line x1="684.17" y1="472.41" x2="684.17" y2="474.85" stroke="#000" stroke-width="1" stroke-opacity="0.62"/>
<line x1="681.07" y1="472.41" x2="687.27" y2="472.41" stroke="#000" stroke-width="1" stroke-opacity="0.62"/>
<line x1="681.07" y1="474.85" x2="687.27" y2="474.85" stroke="#000" stroke-width="1" stroke-opacity="0.62"/>
<rect x="691.96" y="475.46" width="13.58" height="12.64" fill="#c6c60c" stroke="#74740a" stroke-width="1"/>
<line x1="698.75" y1="473.63" x2="698.75" y2="477.28" stroke="#000" stroke-width="1" stroke-opacity="0.62"/>
<line x1="695.65" y1="473.63" x2="701.85" y2="473.63" stroke="#000" stroke-width="1" stroke-opacity="0.62"/>
<line x1="695.65" y1="477.28" x2="701.85" y2="477.28" stroke="#000" stroke-width="1" stroke-opacity="0.62"/>
<rect x="706.54" y="471.65" width="13.58" height="16.45" fill="#0c8a0e" stroke="#075207" stroke-width="1"/>
<line x1="713.33" y1="470.58" x2="713.33" y2="472.72" stroke="#000" stroke-width="1" stroke-opacity="0.62"/>
<line x1="710.23" y1="470.58" x2="716.43" y2="470.58" stroke="#000" stroke-width="1" stroke-opacity="0.62"/>
<line x1="710.23" y1="472.72" x2="716.43" y2="472.72" stroke="#000" stroke-width="1" stroke-opacity="0.62"/>
<rect x="721.12" y="472.72" width="13.58" height="15.38" fill="#1c8a94" stroke="#0f555c" stroke-width="1"/>
<line x1="727.91" y1="471.19" x2="727.91" y2="474.24" stroke="#000" stroke-width="1" stroke-opacity="0.62"/>
<line x1="724.81" y1="471.19" x2="731.01" y2="471.19" stroke="#000" stroke-width="1" stroke-opacity="0.62"/>
<line x1="724.81" y1="474.24" x2="731.01" y2="474.24" stroke="#000" stroke-width="1" stroke-opacity="0.62"/>
<rect x="735.70" y="473.48" width="13.58" height="14.62" fill="#0c4a96" stroke="#072c60" stroke-width="1"/>
<line x1="742.49" y1="470.74" x2="742.49" y2="476.22" stroke="#000" stroke-width="1" stroke-opacity="0.62"/>
<line x1="739.39" y1="470.74" x2="745.59" y2="470.74" stroke="#000" stroke-width="1" stroke-opacity="0.62"/>
<line x1="739.39" y1="476.22" x2="745.59" y2="476.22" stroke="#000" stroke-width="1" stroke-opacity="0.62"/>
<text transform="translate(537.10,521.20) scale(1.0251,1)" font-size="18.7">F1R1</text>
<text transform="translate(681.68,521.20) scale(1.0412,1)" font-size="18.7">F2R2</text>
<text transform="translate(571.64,253.50) scale(1.0685,1)" font-size="18.7" font-style="italic">TaGPx1-D</text>
<text transform="translate(464.32,230.20) scale(1.1430,1)" font-size="18.3">(d)</text>
<text transform="translate(444.30,469.78) rotate(-90) scale(1.0105,1.0)" font-size="21.3">Relative enrichment</text>
<rect x="622.8" y="275.50" width="22.8" height="6.4" fill="#860606" stroke="#4a0000" stroke-width="1"/>
<text transform="translate(650.00,284.00) scale(1.0605,1)" font-size="18.1">WT/anti-myc</text>
<rect x="622.8" y="296.90" width="22.8" height="6.4" fill="#ff8a00" stroke="#9a5200" stroke-width="1"/>
<text transform="translate(648.09,306.20) scale(1.0719,1)" font-size="18.1">OE5/anti-myc</text>
<rect x="622.8" y="318.50" width="22.8" height="6.4" fill="#c6c60c" stroke="#74740a" stroke-width="1"/>
<text transform="translate(647.70,327.80) scale(1.0652,1)" font-size="18.1">OE13/anti-myc</text>
<rect x="622.8" y="339.90" width="22.8" height="6.4" fill="#0c8a0e" stroke="#075207" stroke-width="1"/>
<text transform="translate(650.00,349.20) scale(1.0561,1)" font-size="18.1">WT/no AB</text>
<rect x="622.8" y="361.40" width="22.8" height="6.4" fill="#1c8a94" stroke="#0f555c" stroke-width="1"/>
<text transform="translate(649.10,370.80) scale(1.0647,1)" font-size="18.1">OE5/no AB</text>
<rect x="622.8" y="383.00" width="22.8" height="6.4" fill="#0c4a96" stroke="#072c60" stroke-width="1"/>
<text transform="translate(649.10,392.20) scale(1.0659,1)" font-size="18.1">OE13/ no AB</text>
<text transform="translate(533.21,318.39) scale(1.0130,1)" font-size="18.2">**</text>
<text transform="translate(548.32,334.29) scale(0.9763,1)" font-size="18.2">**</text>
<rect x="489.6" y="577.6" width="288.9" height="228.69999999999993" fill="none" stroke="#4c4c4c" stroke-width="1.2"/>
<line x1="485.80" y1="806.30" x2="489.60" y2="806.30" stroke="#4c4c4c" stroke-width="1.2"/>
<text transform="translate(465.92,813.00) scale(1.0450,1)" font-size="18.7">0</text>
<line x1="485.80" y1="760.56" x2="489.60" y2="760.56" stroke="#4c4c4c" stroke-width="1.2"/>
<text transform="translate(466.22,767.26) scale(1.0450,1)" font-size="18.7">2</text>
<line x1="485.80" y1="714.82" x2="489.60" y2="714.82" stroke="#4c4c4c" stroke-width="1.2"/>
<text transform="translate(465.92,721.52) scale(1.0450,1)" font-size="18.7">4</text>
<line x1="485.80" y1="669.08" x2="489.60" y2="669.08" stroke="#4c4c4c" stroke-width="1.2"/>
<text transform="translate(466.22,675.78) scale(1.0450,1)" font-size="18.7">6</text>
<line x1="485.80" y1="623.34" x2="489.60" y2="623.34" stroke="#4c4c4c" stroke-width="1.2"/>
<text transform="translate(466.22,630.04) scale(1.0450,1)" font-size="18.7">8</text>
<line x1="485.80" y1="577.60" x2="489.60" y2="577.60" stroke="#4c4c4c" stroke-width="1.2"/>
<text transform="translate(455.05,584.30) scale(1.0450,1)" font-size="18.7">10</text>
<line x1="561.55" y1="806.30" x2="561.55" y2="810.10" stroke="#4c4c4c" stroke-width="1.2"/>
<line x1="705.85" y1="806.30" x2="705.85" y2="810.10" stroke="#4c4c4c" stroke-width="1.2"/>
<rect x="518.60" y="782.29" width="13.50" height="23.71" fill="#860606" stroke="#2c0000" stroke-width="1"/>
<line x1="525.35" y1="780.91" x2="525.35" y2="783.66" stroke="#000" stroke-width="1" stroke-opacity="0.85"/>
<line x1="522.25" y1="780.91" x2="528.45" y2="780.91" stroke="#000" stroke-width="1" stroke-opacity="0.85"/>
<line x1="522.25" y1="783.66" x2="528.45" y2="783.66" stroke="#000" stroke-width="1" stroke-opacity="0.85"/>
<rect x="533.10" y="664.51" width="13.50" height="141.49" fill="#ff8a00" stroke="#4e2a00" stroke-width="1"/>
<line x1="539.85" y1="642.78" x2="539.85" y2="686.23" stroke="#000" stroke-width="1" stroke-opacity="0.85"/>
<line x1="536.75" y1="642.78" x2="542.95" y2="642.78" stroke="#000" stroke-width="1" stroke-opacity="0.85"/>
<line x1="536.75" y1="686.23" x2="542.95" y2="686.23" stroke="#000" stroke-width="1" stroke-opacity="0.85"/>
<rect x="547.60" y="689.66" width="13.50" height="116.34" fill="#c6c60c" stroke="#5a5a08" stroke-width="1"/>
<line x1="554.35" y1="678.69" x2="554.35" y2="700.64" stroke="#000" stroke-width="1" stroke-opacity="0.85"/>
<line x1="551.25" y1="678.69" x2="557.45" y2="678.69" stroke="#000" stroke-width="1" stroke-opacity="0.85"/>
<line x1="551.25" y1="700.64" x2="557.45" y2="700.64" stroke="#000" stroke-width="1" stroke-opacity="0.85"/>
<rect x="562.10" y="785.26" width="13.50" height="20.74" fill="#0c8a0e" stroke="#032c03" stroke-width="1"/>
<line x1="568.85" y1="782.52" x2="568.85" y2="788.00" stroke="#000" stroke-width="1" stroke-opacity="0.85"/>
<line x1="565.75" y1="782.52" x2="571.95" y2="782.52" stroke="#000" stroke-width="1" stroke-opacity="0.85"/>
<line x1="565.75" y1="788.00" x2="571.95" y2="788.00" stroke="#000" stroke-width="1" stroke-opacity="0.85"/>
<rect x="576.60" y="783.43" width="13.50" height="22.57" fill="#1c8a94" stroke="#083238" stroke-width="1"/>
<line x1="583.35" y1="780.23" x2="583.35" y2="786.63" stroke="#000" stroke-width="1" stroke-opacity="0.85"/>
<line x1="580.25" y1="780.23" x2="586.45" y2="780.23" stroke="#000" stroke-width="1" stroke-opacity="0.85"/>
<line x1="580.25" y1="786.63" x2="586.45" y2="786.63" stroke="#000" stroke-width="1" stroke-opacity="0.85"/>
<rect x="591.10" y="782.06" width="13.50" height="23.94" fill="#0c4a96" stroke="#041a3c" stroke-width="1"/>
<line x1="597.85" y1="779.77" x2="597.85" y2="784.34" stroke="#000" stroke-width="1" stroke-opacity="0.85"/>
<line x1="594.75" y1="779.77" x2="600.95" y2="779.77" stroke="#000" stroke-width="1" stroke-opacity="0.85"/>
<line x1="594.75" y1="784.34" x2="600.95" y2="784.34" stroke="#000" stroke-width="1" stroke-opacity="0.85"/>
<rect x="662.80" y="785.03" width="13.58" height="20.97" fill="#860606" stroke="#2c0000" stroke-width="1"/>
<line x1="669.59" y1="783.43" x2="669.59" y2="786.63" stroke="#000" stroke-width="1" stroke-opacity="0.85"/>
<line x1="666.49" y1="783.43" x2="672.69" y2="783.43" stroke="#000" stroke-width="1" stroke-opacity="0.85"/>
<line x1="666.49" y1="786.63" x2="672.69" y2="786.63" stroke="#000" stroke-width="1" stroke-opacity="0.85"/>
<rect x="677.38" y="782.29" width="13.58" height="23.71" fill="#ff8a00" stroke="#4e2a00" stroke-width="1"/>
<line x1="684.17" y1="780.46" x2="684.17" y2="784.12" stroke="#000" stroke-width="1" stroke-opacity="0.85"/>
<line x1="681.07" y1="780.46" x2="687.27" y2="780.46" stroke="#000" stroke-width="1" stroke-opacity="0.85"/>
<line x1="681.07" y1="784.12" x2="687.27" y2="784.12" stroke="#000" stroke-width="1" stroke-opacity="0.85"/>
<rect x="691.96" y="785.03" width="13.58" height="20.97" fill="#c6c60c" stroke="#5a5a08" stroke-width="1"/>
<line x1="698.75" y1="783.89" x2="698.75" y2="786.17" stroke="#000" stroke-width="1" stroke-opacity="0.85"/>
<line x1="695.65" y1="783.89" x2="701.85" y2="783.89" stroke="#000" stroke-width="1" stroke-opacity="0.85"/>
<line x1="695.65" y1="786.17" x2="701.85" y2="786.17" stroke="#000" stroke-width="1" stroke-opacity="0.85"/>
<rect x="706.54" y="782.29" width="13.58" height="23.71" fill="#0c8a0e" stroke="#032c03" stroke-width="1"/>
<line x1="713.33" y1="779.08" x2="713.33" y2="785.49" stroke="#000" stroke-width="1" stroke-opacity="0.85"/>
<line x1="710.23" y1="779.08" x2="716.43" y2="779.08" stroke="#000" stroke-width="1" stroke-opacity="0.85"/>
<line x1="710.23" y1="785.49" x2="716.43" y2="785.49" stroke="#000" stroke-width="1" stroke-opacity="0.85"/>
<rect x="721.12" y="781.37" width="13.58" height="24.63" fill="#1c8a94" stroke="#083238" stroke-width="1"/>
<line x1="727.91" y1="779.54" x2="727.91" y2="783.20" stroke="#000" stroke-width="1" stroke-opacity="0.85"/>
<line x1="724.81" y1="779.54" x2="731.01" y2="779.54" stroke="#000" stroke-width="1" stroke-opacity="0.85"/>
<line x1="724.81" y1="783.20" x2="731.01" y2="783.20" stroke="#000" stroke-width="1" stroke-opacity="0.85"/>
<rect x="735.70" y="782.29" width="13.58" height="23.71" fill="#0c4a96" stroke="#041a3c" stroke-width="1"/>
<line x1="742.49" y1="778.17" x2="742.49" y2="786.40" stroke="#000" stroke-width="1" stroke-opacity="0.85"/>
<line x1="739.39" y1="778.17" x2="745.59" y2="778.17" stroke="#000" stroke-width="1" stroke-opacity="0.85"/>
<line x1="739.39" y1="786.40" x2="745.59" y2="786.40" stroke="#000" stroke-width="1" stroke-opacity="0.85"/>
<text transform="translate(537.10,839.50) scale(1.0251,1)" font-size="18.7">F1R1</text>
<text transform="translate(681.68,839.50) scale(1.0412,1)" font-size="18.7">F2R2</text>
<text transform="translate(580.90,571.70) scale(1.0275,1)" font-size="18.7" font-style="italic">TaSOD1</text>
<text transform="translate(464.70,545.90) scale(1.1624,1)" font-size="18.3">(g)</text>
<text transform="translate(444.30,788.28) rotate(-90) scale(1.0105,1.0)" font-size="21.3">Relative enrichment</text>
<rect x="622.8" y="593.50" width="22.8" height="6.4" fill="#860606" stroke="#4a0000" stroke-width="1"/>
<text transform="translate(650.00,603.30) scale(1.0654,1)" font-size="18.1">WT/anti-myc</text>
<rect x="622.8" y="614.70" width="22.8" height="6.4" fill="#ff8a00" stroke="#9a5200" stroke-width="1"/>
<text transform="translate(648.59,625.60) scale(1.0719,1)" font-size="18.1">OE5/anti-myc</text>
<rect x="622.8" y="636.10" width="22.8" height="6.4" fill="#c6c60c" stroke="#74740a" stroke-width="1"/>
<text transform="translate(647.69,647.20) scale(1.0694,1)" font-size="18.1">OE13/anti-myc</text>
<rect x="622.8" y="657.50" width="22.8" height="6.4" fill="#0c8a0e" stroke="#075207" stroke-width="1"/>
<text transform="translate(650.00,668.40) scale(1.0610,1)" font-size="18.1">WT/no AB</text>
<rect x="622.8" y="679.10" width="22.8" height="6.4" fill="#1c8a94" stroke="#0f555c" stroke-width="1"/>
<text transform="translate(649.09,690.20) scale(1.0692,1)" font-size="18.1">OE5/no AB</text>
<rect x="622.8" y="700.50" width="22.8" height="6.4" fill="#0c4a96" stroke="#072c60" stroke-width="1"/>
<text transform="translate(649.09,711.30) scale(1.0688,1)" font-size="18.1">OE13/ no AB</text>
<text transform="translate(533.02,643.19) scale(0.9763,1)" font-size="18.2">**</text>
<text transform="translate(548.92,678.59) scale(0.9763,1)" font-size="18.2">**</text>
<rect x="839.5" y="259.6" width="288.9000000000001" height="228.39999999999998" fill="none" stroke="#6c6c6c" stroke-width="1.1"/>
<line x1="836.30" y1="488.00" x2="839.50" y2="488.00" stroke="#6c6c6c" stroke-width="1.2"/>
<text transform="translate(815.52,494.70) scale(1.0450,1)" font-size="18.7">0</text>
<line x1="836.30" y1="442.32" x2="839.50" y2="442.32" stroke="#6c6c6c" stroke-width="1.2"/>
<text transform="translate(815.82,449.02) scale(1.0450,1)" font-size="18.7">1</text>
<line x1="836.30" y1="396.64" x2="839.50" y2="396.64" stroke="#6c6c6c" stroke-width="1.2"/>
<text transform="translate(815.82,403.34) scale(1.0450,1)" font-size="18.7">2</text>
<line x1="836.30" y1="350.96" x2="839.50" y2="350.96" stroke="#6c6c6c" stroke-width="1.2"/>
<text transform="translate(815.82,357.66) scale(1.0450,1)" font-size="18.7">3</text>
<line x1="836.30" y1="305.28" x2="839.50" y2="305.28" stroke="#6c6c6c" stroke-width="1.2"/>
<text transform="translate(815.52,311.98) scale(1.0450,1)" font-size="18.7">4</text>
<line x1="836.30" y1="259.60" x2="839.50" y2="259.60" stroke="#6c6c6c" stroke-width="1.2"/>
<text transform="translate(815.82,266.30) scale(1.0450,1)" font-size="18.7">5</text>
<rect x="905.80" y="442.32" width="26.00" height="45.28" fill="#7d0000"/>
<line x1="918.80" y1="488.00" x2="918.80" y2="491.80" stroke="#6c6c6c" stroke-width="1.2"/>
<line x1="918.80" y1="438.40" x2="918.80" y2="445.30" stroke="#000" stroke-width="1" stroke-opacity="0.62"/>
<line x1="915.70" y1="438.40" x2="921.90" y2="438.40" stroke="#000" stroke-width="1" stroke-opacity="0.62"/>
<line x1="915.70" y1="445.30" x2="921.90" y2="445.30" stroke="#000" stroke-width="1" stroke-opacity="0.62"/>
<rect x="1037.00" y="350.05" width="26.10" height="137.55" fill="#f98500"/>
<line x1="1050.05" y1="488.00" x2="1050.05" y2="491.80" stroke="#6c6c6c" stroke-width="1.2"/>
<line x1="1050.05" y1="341.40" x2="1050.05" y2="358.60" stroke="#000" stroke-width="1" stroke-opacity="0.62"/>
<line x1="1046.95" y1="341.40" x2="1053.15" y2="341.40" stroke="#000" stroke-width="1" stroke-opacity="0.62"/>
<line x1="1046.95" y1="358.60" x2="1053.15" y2="358.60" stroke="#000" stroke-width="1" stroke-opacity="0.62"/>
<text transform="translate(814.60,229.30) scale(1.1624,1)" font-size="18.3">(e)</text>
<text transform="translate(848.02,285.60) scale(1.0198,1)" font-size="19.3" font-style="italic">pro-TaGPx1-D</text>
<text transform="translate(899.40,521.00) scale(0.9634,1)" font-size="20.0" font-style="italic">35S:</text>
<text transform="translate(980.99,521.00) scale(0.9800,1)" font-size="20.0" font-style="italic">35S:TaFDL2-1A</text>
<defs><clipPath id="clip259"><rect x="791.5" y="229.60000000000002" width="40" height="288.4"/></clipPath></defs>
<g clip-path="url(#clip259)">
<text transform="translate(805.20,495.66) rotate(-90) scale(1.0048,1.0)" font-size="21.2">Relative luciferase activity</text>
</g>
<text transform="translate(1043.02,340.19) scale(0.9983,1)" font-size="18.2">**</text>
<rect x="840.6" y="577.7" width="288.9999999999999" height="228.0999999999999" fill="none" stroke="#6c6c6c" stroke-width="1.1"/>
<line x1="841.10" y1="578.20" x2="841.10" y2="805.30" stroke="#a4a4a4" stroke-width="2"/>
<line x1="837.40" y1="805.80" x2="840.60" y2="805.80" stroke="#6c6c6c" stroke-width="1.2"/>
<text transform="translate(816.42,812.50) scale(1.0450,1)" font-size="18.7">0</text>
<line x1="837.40" y1="748.77" x2="840.60" y2="748.77" stroke="#6c6c6c" stroke-width="1.2"/>
<text transform="translate(816.72,755.48) scale(1.0450,1)" font-size="18.7">1</text>
<line x1="837.40" y1="691.75" x2="840.60" y2="691.75" stroke="#6c6c6c" stroke-width="1.2"/>
<text transform="translate(816.72,698.45) scale(1.0450,1)" font-size="18.7">2</text>
<line x1="837.40" y1="634.73" x2="840.60" y2="634.73" stroke="#6c6c6c" stroke-width="1.2"/>
<text transform="translate(816.72,641.43) scale(1.0450,1)" font-size="18.7">3</text>
<line x1="837.40" y1="577.70" x2="840.60" y2="577.70" stroke="#6c6c6c" stroke-width="1.2"/>
<text transform="translate(816.42,584.40) scale(1.0450,1)" font-size="18.7">4</text>
<rect x="906.60" y="748.77" width="26.30" height="56.62" fill="#7d0000"/>
<line x1="919.75" y1="805.80" x2="919.75" y2="809.60" stroke="#6c6c6c" stroke-width="1.2"/>
<line x1="919.75" y1="741.00" x2="919.75" y2="757.40" stroke="#000" stroke-width="1" stroke-opacity="0.62"/>
<line x1="916.65" y1="741.00" x2="922.85" y2="741.00" stroke="#000" stroke-width="1" stroke-opacity="0.62"/>
<line x1="916.65" y1="757.40" x2="922.85" y2="757.40" stroke="#000" stroke-width="1" stroke-opacity="0.62"/>
<rect x="1038.00" y="674.64" width="26.20" height="130.76" fill="#f98500"/>
<line x1="1051.10" y1="805.80" x2="1051.10" y2="809.60" stroke="#6c6c6c" stroke-width="1.2"/>
<line x1="1051.10" y1="668.30" x2="1051.10" y2="681.50" stroke="#000" stroke-width="1" stroke-opacity="0.62"/>
<line x1="1048.00" y1="668.30" x2="1054.20" y2="668.30" stroke="#000" stroke-width="1" stroke-opacity="0.62"/>
<line x1="1048.00" y1="681.50" x2="1054.20" y2="681.50" stroke="#000" stroke-width="1" stroke-opacity="0.62"/>
<text transform="translate(814.84,546.90) scale(1.1138,1)" font-size="18.3">(h)</text>
<text transform="translate(848.02,603.80) scale(1.0258,1)" font-size="19.3" font-style="italic">pro-TaSOD1</text>
<text transform="translate(900.70,838.60) scale(0.9584,1)" font-size="20.0" font-style="italic">35S:</text>
<text transform="translate(981.29,838.60) scale(0.9836,1)" font-size="20.0" font-style="italic">35S:TaFDL2-1A</text>
<defs><clipPath id="clip577"><rect x="796.0" y="547.7" width="40" height="288.0999999999999"/></clipPath></defs>
<g clip-path="url(#clip577)">
<text transform="translate(806.20,814.16) rotate(-90) scale(1.0048,1.0)" font-size="21.2">Relative luciferase activity</text>
</g>
<text transform="translate(1043.91,665.99) scale(1.0276,1)" font-size="18.2">**</text>
</svg>
</body></html>
